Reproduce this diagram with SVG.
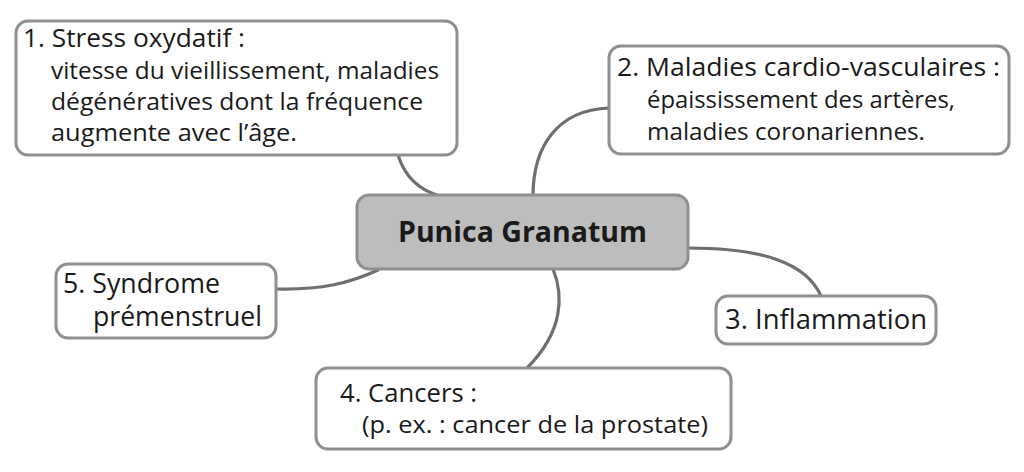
<svg xmlns="http://www.w3.org/2000/svg" width="1024" height="472" viewBox="0 0 1024 472">
<style>
.box{fill:#fff;stroke:#8f8f8f;stroke-width:3}
.center{fill:#bdbdbd;stroke:#8f8f8f;stroke-width:3}
.conn{fill:none;stroke:#6f6f6f;stroke-width:3.2;stroke-linecap:round}
text{font-family:"Open Sans","Noto Sans","DejaVu Sans",sans-serif;font-size:24.5px;fill:#1a1a1a}
.head{font-size:26px}
.big{font-size:26.5px}
.title{font-weight:bold;font-size:29px}
</style>
<rect width="1024" height="472" fill="#fff"/>
<g id="connectors">
<path class="conn" d="M398,155 Q408,187 440,196"/>
<path class="conn" d="M609,108 C556,110 533,148 533,196"/>
<path class="conn" d="M688,248 C760,248 806,262 821,296"/>
<path class="conn" d="M553,269 C564,296 563,332 527,368"/>
<path class="conn" d="M276,289 C322,290 350,283 378,270"/>
</g>
<g id="n0">
<rect class="center" x="357" y="195" width="331" height="74" rx="12"/>
<text class="title" x="398" y="242" textLength="249" lengthAdjust="spacingAndGlyphs">Punica Granatum</text>
</g>
<g id="n1">
<rect class="box" x="16" y="21" width="441" height="134" rx="12"/>
<text class="head" x="23" y="47" textLength="222" lengthAdjust="spacingAndGlyphs">1. Stress oxydatif :</text>
<text x="51" y="79" textLength="388" lengthAdjust="spacingAndGlyphs">vitesse du vieillissement, maladies</text>
<text x="51" y="110" textLength="372" lengthAdjust="spacingAndGlyphs">dégénératives dont la fréquence</text>
<text x="51" y="141" textLength="246" lengthAdjust="spacingAndGlyphs">augmente avec l’âge.</text>
</g>
<g id="n2">
<rect class="box" x="609" y="46" width="400" height="108" rx="12"/>
<text class="head" x="617" y="76" textLength="383" lengthAdjust="spacingAndGlyphs">2. Maladies cardio-vasculaires :</text>
<text x="647" y="108" textLength="308" lengthAdjust="spacingAndGlyphs">épaississement des artères,</text>
<text x="647" y="140" textLength="278" lengthAdjust="spacingAndGlyphs">maladies coronariennes.</text>
</g>
<g id="n3">
<rect class="box" x="716" y="296" width="220" height="48" rx="12"/>
<text class="big" x="725" y="329" textLength="202" lengthAdjust="spacingAndGlyphs">3. Inflammation</text>
</g>
<g id="n4">
<rect class="box" x="316" y="368" width="415" height="81" rx="12"/>
<text class="head" x="340" y="402" textLength="137" lengthAdjust="spacingAndGlyphs">4. Cancers :</text>
<text x="362" y="433" textLength="346" lengthAdjust="spacingAndGlyphs">(p. ex. : cancer de la prostate)</text>
</g>
<g id="n5">
<rect class="box" x="56" y="264" width="220" height="74" rx="12"/>
<text class="big" x="63" y="293" textLength="157" lengthAdjust="spacingAndGlyphs">5. Syndrome</text>
<text class="big" x="93" y="326" textLength="169" lengthAdjust="spacingAndGlyphs">prémenstruel</text>
</g>
</svg>
